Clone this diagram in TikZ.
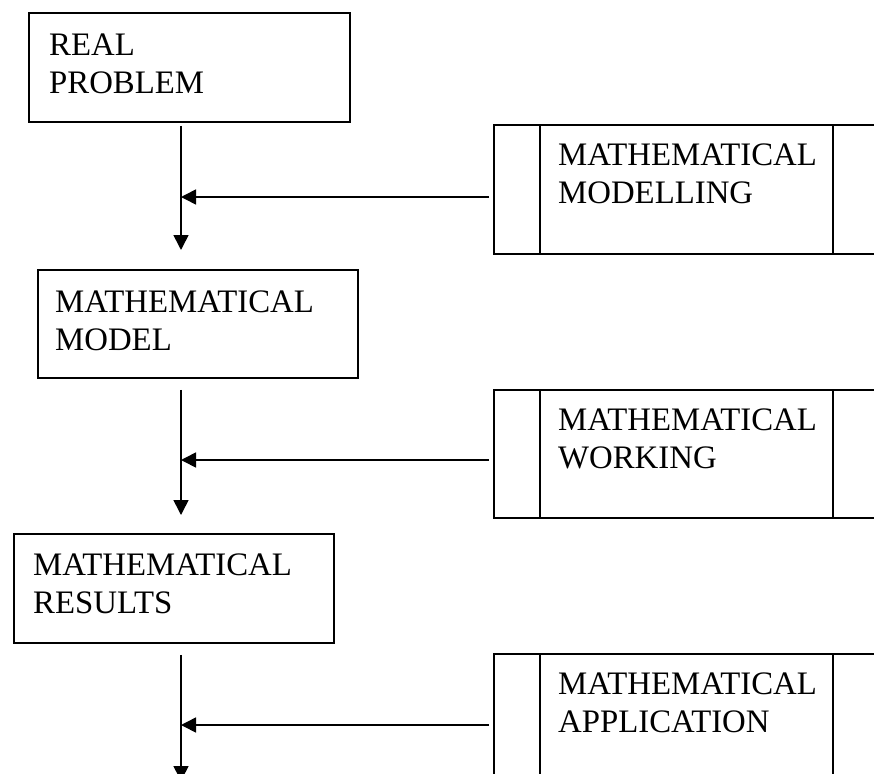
\documentclass[tikz,border=0pt]{standalone}
\usepackage{fontspec}
\setmainfont{Liberation Serif}
\usetikzlibrary{arrows.meta}
\begin{document}
\begin{tikzpicture}[x=1pt,y=-1pt,
  boxline/.style={draw=black,line width=1.8pt,inner sep=0pt,rectangle},
  lbl/.style={inner sep=0pt,anchor=north west,align=left,
    font=\fontsize{32.8}{37.5}\selectfont},
  conn/.style={line width=1.6pt,-{Triangle[length=15pt,width=15pt]}}]
\useasboundingbox (0,0) rectangle (874,773);
\clip (0,0) rectangle (874,773);
% left boxes
\node[boxline,anchor=north west,minimum width=321pt,minimum height=109pt] (b1) at (28,12) {};
\node[lbl] (t1) at (49,34) {REAL\\PROBLEM};
\node[boxline,anchor=north west,minimum width=320pt,minimum height=108pt] (b2) at (37,269) {};
\node[lbl] (t2) at (55,291) {MATHEMATICAL\\MODEL};
\node[boxline,anchor=north west,minimum width=320pt,minimum height=109pt] (b3) at (13,533) {};
\node[lbl] (t3) at (33,554) {MATHEMATICAL\\RESULTS};
% right boxes
\node[boxline,anchor=north west,minimum width=400pt,minimum height=129pt] (r1) at (493,124) {};
\node[boxline,anchor=north west,minimum width=400pt,minimum height=128pt] (r2) at (493,389) {};
\node[boxline,anchor=north west,minimum width=400pt,minimum height=160pt] (r3) at (493,653) {};
\foreach \r in {r1,r2,r3}{
  \draw[line width=1.8pt] ([xshift=47pt]\r.north west) -- ([xshift=47pt]\r.south west);
  \draw[line width=1.8pt] ([xshift=340pt]\r.north west) -- ([xshift=340pt]\r.south west);
}
\node[lbl] (s1) at (558,144) {MATHEMATICAL\\MODELLING};
\node[lbl] (s2) at (558,409) {MATHEMATICAL\\WORKING};
\node[lbl] (s3) at (558,673) {MATHEMATICAL\\APPLICATION};
% junctions
\coordinate (j1) at (181,197);
\coordinate (j2) at (181,460);
\coordinate (j3) at (181,725);
\coordinate (e3) at (181,781);
% vertical connectors
\draw[conn,shorten <=3pt,shorten >=19pt] (b1.south -| j1) -- (b2.north -| j1);
\draw[conn,shorten <=11pt,shorten >=18pt] (b2.south -| j2) -- (b3.north -| j2);
\draw[conn,shorten <=11pt] (b3.south -| j3) -- (e3);
% horizontal connectors
\draw[conn,shorten <=4pt] (r1.west |- j1) -- (j1);
\draw[conn,shorten <=4pt] (r2.west |- j2) -- (j2);
\draw[conn,shorten <=4pt] (r3.west |- j3) -- (j3);
\end{tikzpicture}
\end{document}
